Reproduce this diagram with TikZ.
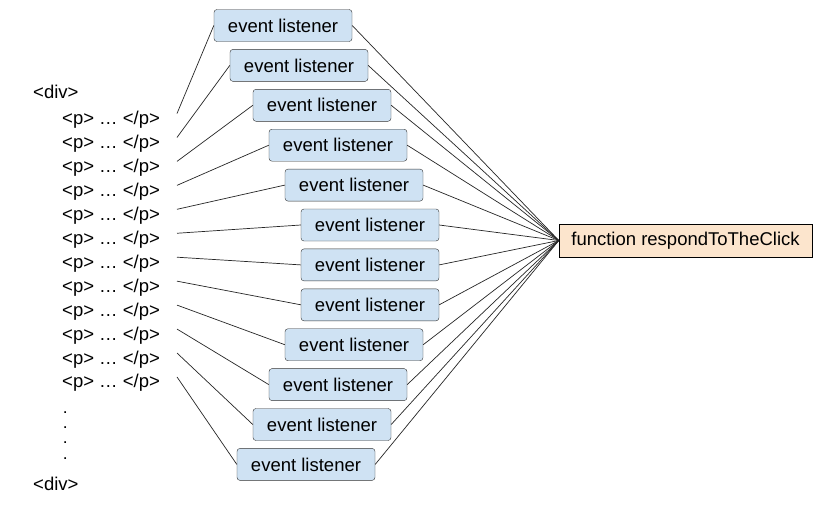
\documentclass[tikz,border=0pt]{standalone}
\usepackage{fontspec}
\setmainfont{Liberation Sans}
\definecolor{lblue}{HTML}{CFE2F3}
\definecolor{lorange}{HTML}{FCE5CD}
\begin{document}
\begin{tikzpicture}[x=1pt,y=-1pt,
  txt/.style={anchor=base west,inner sep=0pt,font=\fontsize{18.5}{22}\selectfont},
  dotmark/.style={anchor=base west,inner sep=0pt,font=\fontsize{12}{13}\selectfont\bfseries},
  listener/.style={draw=black!80,fill=lblue,rounded corners=3pt,minimum width=138pt,minimum height=32pt,inner sep=0pt,font=\fontsize{18.5}{22}\selectfont},
  func/.style={draw=black,fill=lorange,minimum width=253pt,minimum height=33pt,inner sep=0pt,font=\fontsize{18.5}{22}\selectfont},
  conn/.style={draw=black!85,line width=0.7pt}]
\fill[white] (0,0) rectangle (831,504);
\useasboundingbox (0,0) rectangle (831,504);
\node[txt] (div1) at (33,98) {<div>};
\foreach \i in {1,...,12}{
  \node[txt] (p\i) at (62,{124.5+23.95*(\i-1)}) {<p> … </p>};
  \coordinate (s\i) at (177,{113.5+23.95*(\i-1)});
}
\foreach \i/\y in {1/413,2/428,3/443,4/459}{
  \node[dotmark] (d\i) at (63.3,\y) {.};
}
\node[txt] (div2) at (33,490) {<div>};
\node[func] (f) at (685.5,240.5) {function respondToTheClick};
\foreach \i/\l in {1/214,2/230,3/253,4/269,5/285,6/301,7/301,8/301,9/285,10/269,11/253,12/237}{
  \node[listener] (b\i) at ({\l+69},{25.5+39.9*(\i-1)}) {event listener};
  \draw[conn] (s\i) -- (b\i.west);
  \draw[conn] (b\i.east) -- (f.west);
}
\end{tikzpicture}
\end{document}
